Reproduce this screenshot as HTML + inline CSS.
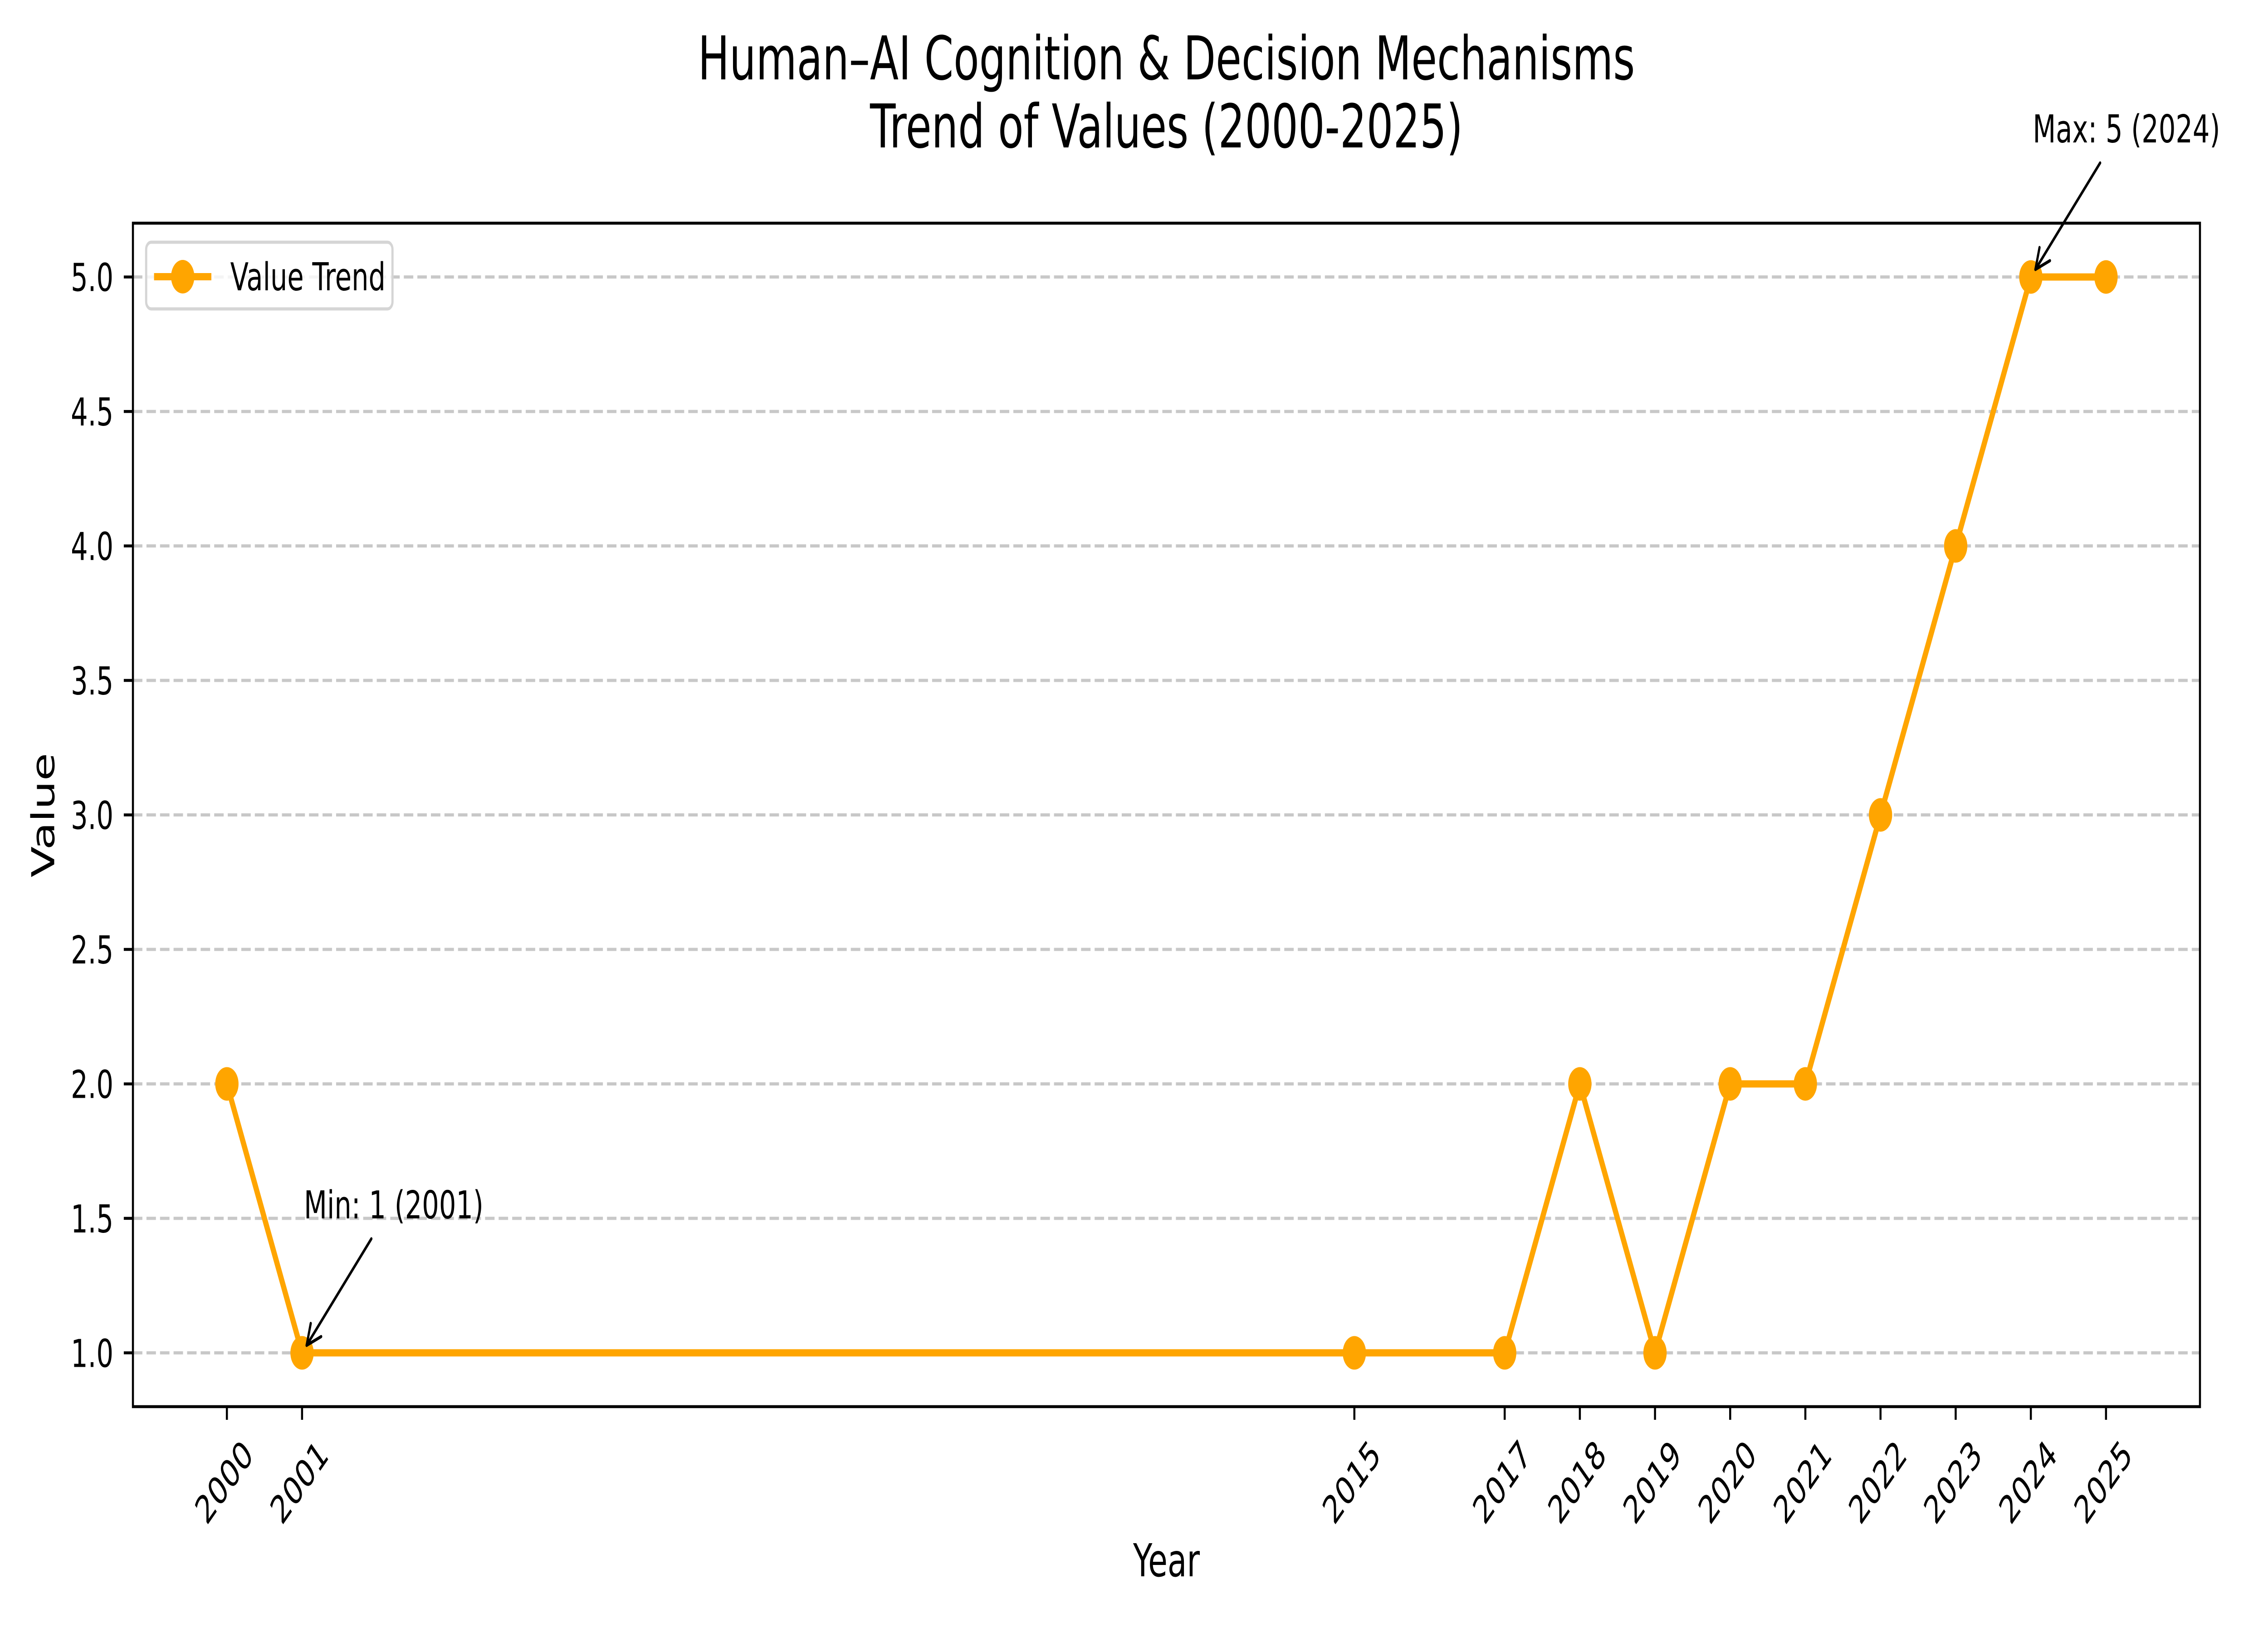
<!DOCTYPE html>
<html><head><meta charset="utf-8"><style>
html,body{margin:0;padding:0;background:#fff;width:100%;height:100%;overflow:hidden;}
svg{display:block;width:100vw;height:100vh;font-family:"DejaVu Sans","Liberation Sans",sans-serif;}
</style></head><body>
<svg id="chart" viewBox="0 0 7200 3600" preserveAspectRatio="none" xmlns="http://www.w3.org/2000/svg">
<rect width="7200" height="3600" fill="#fff"/>
<text x="3703" y="175" font-size="133" text-anchor="middle">Human–AI Cognition &amp; Decision Mechanisms</text>
<text x="3703" y="325" font-size="133" text-anchor="middle">Trend of Values (2000-2025)</text>
<g id="grid"></g>
<g id="series"></g>
<rect x="422" y="492" width="6562" height="2609" fill="none" stroke="#000" stroke-width="6.5"/>
<g id="axes"></g>
<g id="annotations"></g>
<text x="3703" y="3475" font-size="100" text-anchor="middle">Year</text>
<text x="0" y="0" font-size="100" text-anchor="middle" transform="translate(172,1797) rotate(-90)">Value</text>
<g>
<rect x="464" y="534" width="782" height="147" rx="16" fill="#fff" fill-opacity="0.8" stroke="#d5d5d5" stroke-width="7"/>
<line x1="489" y1="610" x2="671" y2="610" stroke="#FFA500" stroke-width="16"/>
<circle cx="580" cy="610" r="37" fill="#FFA500"/>
<text x="731" y="640" font-size="85">Value Trend</text>
</g>
</svg>
<script>
const years = [2000, 2001, 2015, 2017, 2018, 2019, 2020, 2021, 2022, 2023, 2024, 2025];
const values = [2, 1, 1, 1, 2, 1, 2, 2, 3, 4, 5, 5];
const yTicks = [1.0, 1.5, 2.0, 2.5, 3.0, 3.5, 4.0, 4.5, 5.0];
const yTickLabels = ["1.0", "1.5", "2.0", "2.5", "3.0", "3.5", "4.0", "4.5", "5.0"];

const NS = "http://www.w3.org/2000/svg";
const X0 = 422, X1 = 6984, Y0 = 3101, Y1 = 492;
const xmin = 1998.75, xmax = 2026.25, ymin = 0.8, ymax = 5.2;
function sx(v){ return X0 + (v - xmin) / (xmax - xmin) * (X1 - X0); }
function sy(v){ return Y0 - (v - ymin) / (ymax - ymin) * (Y0 - Y1); }
function mk(tag, attrs, parent){ const e = document.createElementNS(NS, tag); for (const k in attrs) e.setAttribute(k, attrs[k]); parent.appendChild(e); return e; }

const grid = document.getElementById('grid');
const axes = document.getElementById('axes');
const series = document.getElementById('series');
const ann = document.getElementById('annotations');

yTicks.forEach((t, i) => {
  const y = sy(t);
  const g = mk('line', {x1: X0, x2: X1, y1: y, y2: y, stroke: '#c8c8c8', 'stroke-width': 7, 'stroke-dasharray': '30 13'}, grid);
  
  
  const tk = mk('line', {x1: X0 - 29, x2: X0, y1: y, y2: y, stroke: '#000', 'stroke-width': 6.5}, axes);
  
  
  const lb = mk('text', {x: X0 - 62, y: y + 31, 'font-size': 85, 'text-anchor': 'end'}, axes);
  lb.textContent = yTickLabels[i];
  
  
});

years.forEach((yr) => {
  const x = sx(yr);
  const tk = mk('line', {x1: x, x2: x, y1: Y0, y2: Y0 + 29, stroke: '#000', 'stroke-width': 6.5}, axes);
  
  
  const lb = mk('text', {x: 0, y: 0, 'font-size': 85, 'text-anchor': 'middle', 'dominant-baseline': 'central', transform: `translate(${x - 8},3268) rotate(-45)`}, axes);
  lb.textContent = String(yr);
  
  
});

const pts = years.map((yr, i) => sx(yr) + ',' + sy(values[i])).join(' ');
const pl = mk('polyline', {points: pts, fill: 'none', stroke: '#FFA500', 'stroke-width': 16, 'stroke-linejoin': 'round'}, series);


years.forEach((yr, i) => {
  const c = mk('circle', {cx: sx(yr), cy: sy(values[i]), r: 37, fill: '#FFA500'}, series);
  
  
});

function annotate(label, yr, val, textVal, name){
  const tx = sx(yr), ty = sy(textVal);
  const t = mk('text', {x: tx + 6, y: ty, 'font-size': 85}, ann);
  t.textContent = label;
  
  
  const px = sx(yr), py = sy(val);
  const x1 = tx + 220, y1 = ty + 45;
  const dx = px - x1, dy = py - y1, L = Math.hypot(dx, dy);
  const ux = dx / L, uy = dy / L;
  const ex = px - ux * 22, ey = py - uy * 22;
  const a = mk('line', {x1: x1, y1: y1, x2: ex, y2: ey, stroke: '#000', 'stroke-width': 7, 'stroke-linecap': 'round'}, ann);
  
  
  const hl = 45, hw = 22;
  const bx = ex - ux * hl, by = ey - uy * hl;
  const h = mk('polyline', {points: `${bx - uy * hw},${by + ux * hw} ${ex},${ey} ${bx + uy * hw},${by - ux * hw}`, fill: 'none', stroke: '#000', 'stroke-width': 7, 'stroke-linecap': 'round', 'stroke-linejoin': 'round'}, ann);
  
  
}
annotate('Min: 1 (2001)', 2001, 1, 1.5, 'min-annotation');
annotate('Max: 5 (2024)', 2024, 5, 5.5, 'max-annotation');
</script>
</body></html>
